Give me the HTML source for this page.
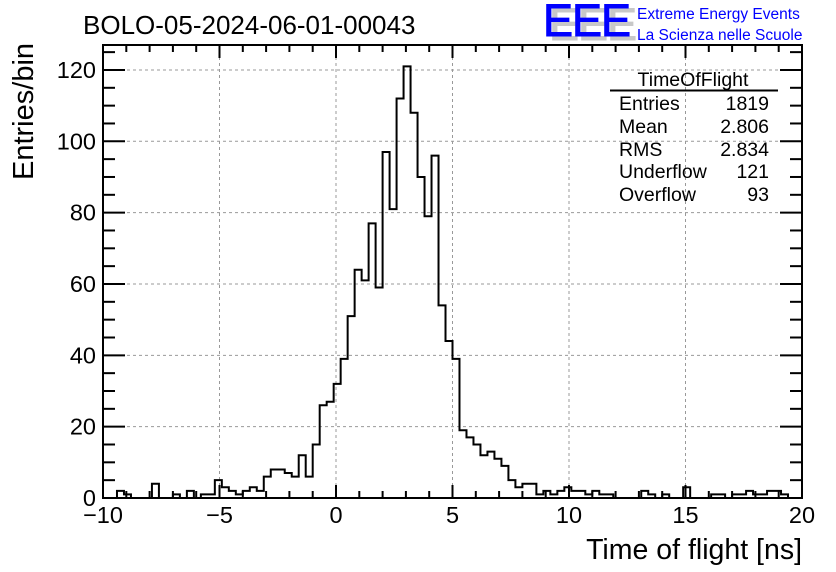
<!DOCTYPE html>
<html><head><meta charset="utf-8"><style>
body{margin:0;background:#fff;}
svg{display:block;font-family:"Liberation Sans",sans-serif;}
</style></head><body>
<svg id="chart" width="836" height="572" viewBox="0 0 836 572" xmlns="http://www.w3.org/2000/svg">
<rect width="836" height="572" fill="#fff"/>
<g id="grid"></g>
<g id="hist"></g>
<g id="axes"></g>
<text x="83" y="34" font-size="26">BOLO-05-2024-06-01-00043</text>
<g>
<text x="549" y="40" font-size="45" fill="#c8c8c8" letter-spacing="-1" stroke="#c8c8c8" stroke-width="1">EEE</text>
<text x="543" y="36" font-size="45" fill="#0000ff" letter-spacing="-1" stroke="#0000ff" stroke-width="1">EEE</text>
<text x="637" y="19" font-size="15.5" fill="#0000ff">Extreme Energy Events</text>
<text x="637" y="40" font-size="15.5" fill="#0000ff">La Scienza nelle Scuole</text>
</g>
<text transform="translate(33,180) rotate(-90)" font-size="29" text-anchor="start">Entries/bin</text>
<text x="802" y="559" font-size="28.5" text-anchor="end">Time of flight [ns]</text>
<g font-size="19.5">
<text x="693" y="86" text-anchor="middle">TimeOfFlight</text>
<line x1="610" y1="90.5" x2="778" y2="90.5" stroke="#000" stroke-width="2"/>
<text x="619" y="110">Entries</text><text x="769" y="110" text-anchor="end">1819</text>
<text x="619" y="133">Mean</text><text x="769" y="133" text-anchor="end">2.806</text>
<text x="619" y="156">RMS</text><text x="769" y="156" text-anchor="end">2.834</text>
<text x="619" y="178">Underflow</text><text x="769" y="178" text-anchor="end">121</text>
<text x="619" y="201">Overflow</text><text x="769" y="201" text-anchor="end">93</text>
</g>
</svg>
<script>
const binStart = -10;
const binWidth = 0.3;
const counts = [0,0,2,1,0,0,0,4,0,0,1,0,2,0,1,1,5,3,2,1,2,3,2,6,8,8,7,6,12,6,15,26,27,32,39,51,64,61,77,59,97,81,112,121,108,90,79,96,54,44,39,19,17,15,12,13,11,9,5,3,4,4,1,
2,1,2,3,2,2,1,2,1,1,0,0,0,0,2,1,0,1,0,0,3,0,0,0,1,1,0,1,1,2,1,1,2,2,1,0,0];
const xTicks = [-10,-5,0,5,10,15,20];
const yTicks = [0,20,40,60,80,100,120];

const L=103,R=802,T=45,B=498,xMin=-10,xMax=20,yMax=127;
const sx=v=>L+(v-xMin)/(xMax-xMin)*(R-L);
const sy=v=>B-v/yMax*(B-T);
const NS='http://www.w3.org/2000/svg';
function mk(tag,attrs,parent){const e=document.createElementNS(NS,tag);for(const k in attrs)e.setAttribute(k,attrs[k]);parent.appendChild(e);return e;}
const grid=document.getElementById('grid'),hist=document.getElementById('hist'),axes=document.getElementById('axes');

xTicks.forEach(v=>{if(v>xMin&&v<xMax){const l=mk('line',{x1:sx(v),x2:sx(v),y1:T,y2:B,stroke:'#999','stroke-dasharray':'3,3','stroke-width':1},grid);

}});
yTicks.forEach(v=>{if(v>0){const l=mk('line',{x1:L,x2:R,y1:sy(v),y2:sy(v),stroke:'#999','stroke-dasharray':'3,3','stroke-width':1},grid);

}});

let d='M'+sx(binStart)+','+sy(0);
counts.forEach((c,i)=>{const x0=sx(binStart+i*binWidth),x1=sx(binStart+(i+1)*binWidth);d+=' L'+x0+','+sy(c)+' L'+x1+','+sy(c);});
d+=' L'+sx(binStart+counts.length*binWidth)+','+sy(0);
const p=mk('path',{d:d,fill:'none',stroke:'#000','stroke-width':2},hist);



const fr=mk('rect',{x:L,y:T,width:R-L,height:B-T,fill:'none',stroke:'#000','stroke-width':2},axes);


for(let v=xMin;v<=xMax;v++){const major=xTicks.includes(v);const len=major?13:7;
mk('line',{x1:sx(v),x2:sx(v),y1:B,y2:B-len,stroke:'#000','stroke-width':2},axes);
mk('line',{x1:sx(v),x2:sx(v),y1:T,y2:T+len,stroke:'#000','stroke-width':2},axes);}
for(let v=0;v<=yMax;v+=5){const major=v%20===0;const len=major?22:12;
mk('line',{x1:L,x2:L+len,y1:sy(v),y2:sy(v),stroke:'#000','stroke-width':2},axes);
mk('line',{x1:R,x2:R-len,y1:sy(v),y2:sy(v),stroke:'#000','stroke-width':2},axes);}
xTicks.forEach(v=>{const t=mk('text',{x:sx(v),y:523,'font-size':23.5,'text-anchor':'middle'},axes);t.textContent=v<0?'\u2212'+(-v):String(v);

});
yTicks.forEach(v=>{const t=mk('text',{x:96,y:sy(v)+8,'font-size':23.5,'text-anchor':'end'},axes);t.textContent=String(v);

});
</script>
</body></html>
